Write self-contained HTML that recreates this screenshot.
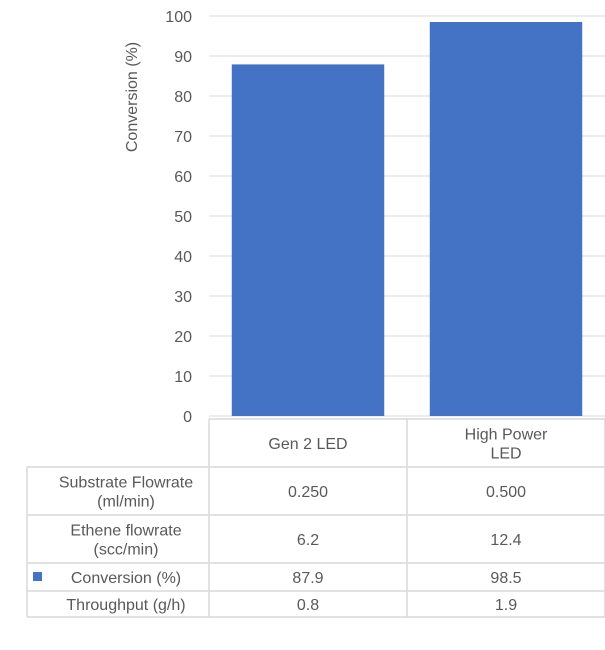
<!DOCTYPE html>
<html><head><meta charset="utf-8"><style>
body{margin:0;background:#fff;}
svg text{font-family:"Liberation Sans",Arial,sans-serif;fill:#595959;}
</style></head><body>
<svg width="605" height="645" viewBox="0 0 605 645">
<g id="grid"></g>
<g id="ylabels"></g>
<g id="bars"></g>
<text transform="translate(137,97) rotate(-90)" text-anchor="middle" font-size="16">Conversion (%)</text>
<g id="table"></g>
</svg>
<script>
const categories=["Gen 2 LED","High Power LED"];
const conversion=[87.9,98.5];
const substrate=["0.250","0.500"];
const ethene=["6.2","12.4"];
const conversionLabels=["87.9","98.5"];
const throughput=["0.8","1.9"];
const yTicks=[0,10,20,30,40,50,60,70,80,90,100];
const NS="http://www.w3.org/2000/svg";
const y0=416,yTop=16,xL=209,xR=605;
const yScale=v=>y0-(v/100)*(y0-yTop);
const colW=(xR-xL)/categories.length;
function mk(tag,attrs,parent,txt){const e=document.createElementNS(NS,tag);for(const k in attrs)e.setAttribute(k,attrs[k]);if(txt!==undefined)e.textContent=txt;parent.appendChild(e);return e;}
const grid=document.getElementById('grid'),yl=document.getElementById('ylabels'),bars=document.getElementById('bars'),tb=document.getElementById('table');
yTicks.forEach(t=>{
 const l=mk('line',{x1:xL,x2:xR,y1:yScale(t),y2:yScale(t),stroke:'#d9d9d9','stroke-width':1},grid);
 
 
 const tx=mk('text',{x:192,y:yScale(t)+6,'text-anchor':'end','font-size':16},yl,String(t));
 
 
});
conversion.forEach((v,i)=>{
 const bw=colW*0.77;const x=xL+colW*i+(colW-bw)/2;
 const r=mk('rect',{x:x,y:yScale(v),width:bw,height:y0-yScale(v),fill:'#4472c4'},bars);
 
 
});
// table
const rowsY=[419,467,515,563,591,617];
const tableLeft=27;
const st='#d9d9d9';
function hl(x1,x2,y){const l=mk('line',{x1,x2,y1:y,y2:y,stroke:st,'stroke-width':1.5},tb);}
function vl(x,y1,y2){const l=mk('line',{x1:x,x2:x,y1,y2,stroke:st,'stroke-width':1.5},tb);}
hl(xL,xR,rowsY[0]);
for(let i=1;i<rowsY.length;i++)hl(tableLeft,xR,rowsY[i]);
vl(tableLeft,rowsY[1],rowsY[5]);
for(let c=0;c<=categories.length;c++)vl(xL+colW*c,rowsY[0],rowsY[5]);
function cell(lines,cx,top,bot,anchor){
 const mid=(top+bot)/2;const n=lines.length;
 lines.forEach((s,k)=>{const t=mk('text',{x:cx,y:mid+6+(k-(n-1)/2)*19,'text-anchor':anchor||'middle','font-size':16},tb,s);
  
  });
}
cell(["Gen 2 LED"],xL+colW*0.5,rowsY[0],rowsY[1]);
cell(["High Power","LED"],xL+colW*1.5,rowsY[0],rowsY[1]);
const rowLabels=[["Substrate Flowrate","(ml/min)"],["Ethene flowrate","(scc/min)"],["Conversion (%)"],["Throughput (g/h)"]];
const rowData=[substrate,ethene,conversionLabels,throughput];
rowLabels.forEach((lab,r)=>{
 cell(lab,126,rowsY[r+1],rowsY[r+2]);
 rowData[r].forEach((v,c)=>cell([v],xL+colW*(c+0.5),rowsY[r+1],rowsY[r+2]));
});
const key=mk('rect',{x:33,y:572,width:9,height:9,fill:'#4472c4'},tb);


</script>
</body></html>
